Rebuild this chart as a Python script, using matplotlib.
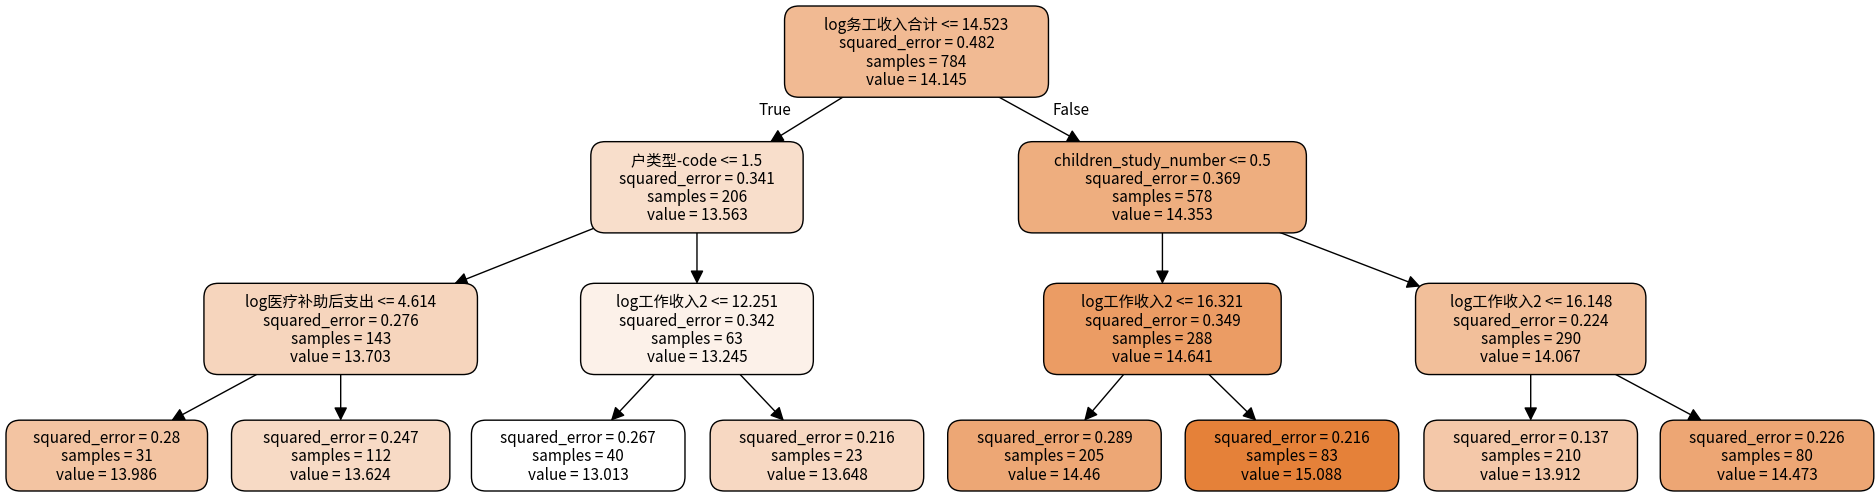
"""Decision tree (regression) rendered like graphviz export."""
import matplotlib
matplotlib.use('Agg')
import matplotlib.pyplot as plt
import matplotlib.patches as mpatches

plt.rcParams['font.family'] = ['Noto Sans CJK SC', 'DejaVu Sans']

# ── Tree data ──────────────────────────────────────────────────────────────
splits = ['log务工收入合计 <= 14.523', '户类型-code <= 1.5', 'children_study_number <= 0.5',
          'log医疗补助后支出 <= 4.614', 'log工作收入2 <= 12.251',
          'log工作收入2 <= 16.321', 'log工作收入2 <= 16.148',
          None, None, None, None, None, None, None, None]
errors = [0.482, 0.341, 0.369, 0.276, 0.342, 0.349, 0.224,
          0.28, 0.247, 0.267, 0.216, 0.289, 0.216, 0.137, 0.226]
samples = [784, 206, 578, 143, 63, 288, 290, 31, 112, 40, 23, 205, 83, 210, 80]
values = ['14.145', '13.563', '14.353', '13.703', '13.245', '14.641', '14.067',
          '13.986', '13.624', '13.013', '13.648', '14.46', '15.088', '13.912', '14.473']
children = {0: (1, 2), 1: (3, 4), 2: (5, 6), 3: (7, 8), 4: (9, 10), 5: (11, 12), 6: (13, 14)}

# ── Layout (reference pixel space 1563 x 414) ─────────────────────────────
xc = [764, 581, 969, 284, 581, 969, 1276, 89, 284, 482, 681, 879, 1077, 1276, 1473]
widths = [220, 177, 240, 228, 194, 198, 192, 168, 182, 178, 178, 178, 178, 178, 178]
level = [0, 1, 1, 2, 2, 2, 2, 3, 3, 3, 3, 3, 3, 3, 3]
ytop = [5, 118, 236, 350]

fig, ax = plt.subplots(figsize=(18.75, 4.97), dpi=100)
fig.subplots_adjust(0, 0, 1, 1)
ax.set_xlim(0, 1563)
ax.set_ylim(414, 0)
ax.axis('off')

vals = [float(v) for v in values]
vmin, vmax = min(vals), max(vals)
base = (229, 129, 57)


def node_color(v):
    f = (v - vmin) / (vmax - vmin)
    return tuple((255 - (255 - c) * f) / 255 for c in base)


boxes = []
for i in range(len(values)):
    lines = []
    if splits[i]:
        lines.append(splits[i])
    lines += [f'squared_error = {errors[i]}', f'samples = {samples[i]}',
              f'value = {values[i]}']
    h = 17 * len(lines) + 8
    y0 = ytop[level[i]]
    w = widths[i]
    box = mpatches.FancyBboxPatch((xc[i] - w / 2, y0), w, h,
                                  boxstyle='round,pad=0,rounding_size=12',
                                  facecolor=node_color(vals[i]), edgecolor='black',
                                  lw=1.0, zorder=3)
    ax.add_patch(box)
    boxes.append((box, y0 + h / 2))
    ax.text(xc[i], y0 + h / 2 + 1, '\n'.join(lines), ha='center', va='center',
            fontsize=11, linespacing=1.1, zorder=4)

for p, (a, b) in children.items():
    for c in (a, b):
        ax.annotate('', xy=(xc[c], boxes[c][1]), xytext=(xc[p], boxes[p][1]),
                    arrowprops=dict(arrowstyle='-|>', color='black', lw=1.0,
                                    mutation_scale=20, shrinkA=0, shrinkB=0,
                                    patchA=boxes[p][0], patchB=boxes[c][0]),
                    zorder=2)

ax.text(646, 92, 'True', ha='center', va='center', fontsize=11)
ax.text(893, 92, 'False', ha='center', va='center', fontsize=11)

plt.savefig('out.png', dpi=100, facecolor='white')
plt.close()
